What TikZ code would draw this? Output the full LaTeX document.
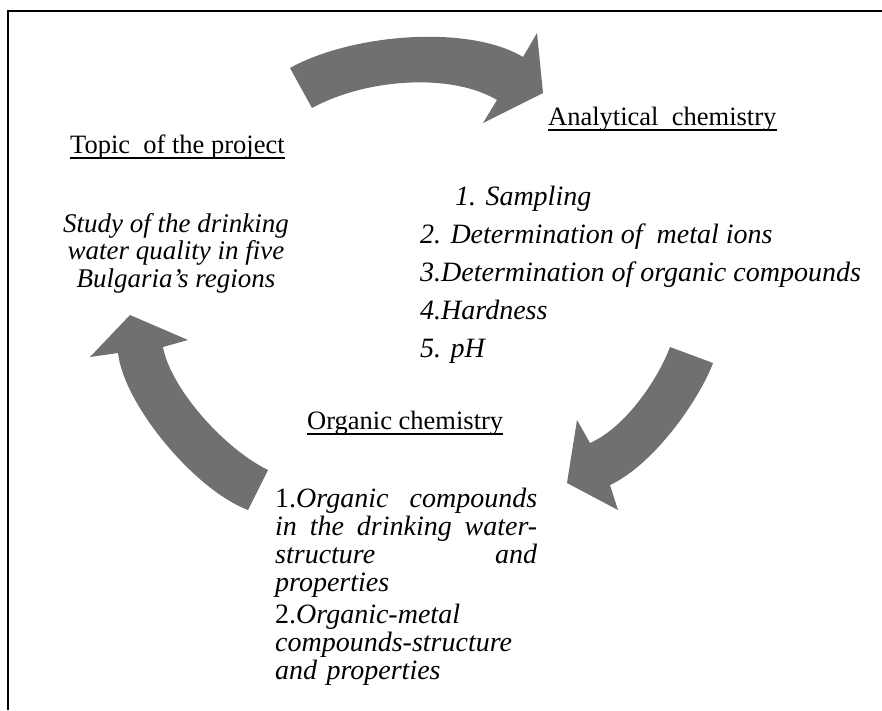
\documentclass[tikz,border=0pt]{standalone}
\usepackage{fontspec}
\setmainfont{Liberation Serif}
\usepackage{tikz}
\usetikzlibrary{positioning}
\definecolor{arrowgray}{RGB}{112,112,112}
\tikzset{
  myhead/.style={font=\fontsize{26.5}{30}\selectfont,inner sep=0pt,anchor=base west},
  myitem/.style={font=\fontsize{28}{28}\selectfont\itshape,inner sep=0pt,anchor=base west},
  mybody/.style={font=\fontsize{27}{27.5}\selectfont\itshape,inner sep=0pt,align=center,anchor=north},
  myarrow/.style={fill=arrowgray,draw=none},
  myframe/.style={line width=1.4pt},
  myrule/.style={line width=1.3pt}
}

\begin{document}
\begin{tikzpicture}[x=1pt,y=-1pt]
  \useasboundingbox (0,0) rectangle (882,710);
  \draw[myframe] (882,11) -- (8,11) -- (8,710);

  % the three curved arrows
  \fill[myarrow] (290,68) .. controls (351,34) and (468,24) .. (523,57)
    -- (537,33) -- (543,93) -- (483,123) -- (497,100)
    .. controls (452,73) and (367,78) .. (312,108) -- cycle;
  \fill[myarrow] (713,363) .. controls (700,398) and (655,464) .. (610,485)
    -- (618,510) -- (567,483) -- (577,420) -- (590,443)
    .. controls (626,427) and (658,379) .. (670,347) -- cycle;
  \fill[myarrow] (248,510) .. controls (195,490) and (124,405) .. (118,353)
    -- (90,357) -- (130,315) -- (188,340) -- (163,347)
    .. controls (170,387) and (223,448) .. (268,470) -- cycle;

  % topic
  \node[myhead] (topic) at (70,153) {Topic \ of the project};
  \node[mybody] (topictext) at (176,213)
    {Study of the drinking\\ water quality in five\\ Bulgaria’s regions};

  % analytical chemistry
  \node[myhead] (anahead) at (548,125) {Analytical \ chemistry};
  \foreach \n/\x/\t in {1/455/{1. Sampling},
                        2/420/{2. Determination of \ metal ions},
                        3/420/{3.Determination of organic compounds},
                        4/420/{4.Hardness},
                        5/420/{5. pH}}
    \node[myitem] (ana\n) at (\x,{167+38*\n}) {\t};

  % organic chemistry
  \node[myhead] (orghead) at (307,429) {Organic chemistry};
  \node[myitem,text width=262pt,align=left] (orgtext) at (275,507)
    {\makebox[262pt][l]{{\upshape 1.}Organic\hfill compounds}\\
     \makebox[262pt][l]{in\hfill the\hfill drinking\hfill water-}\\
     \makebox[262pt][l]{structure\hfill and}\\
     properties\\[4pt]
     {\upshape 2.}Organic-metal\\
     compounds-structure\\
     and properties};

  % underlines of the headings
  \foreach \h in {topic,anahead,orghead}
    \draw[myrule] ([yshift=-5pt]\h.base west) -- ([yshift=-5pt]\h.base east);
\end{tikzpicture}
\end{document}
